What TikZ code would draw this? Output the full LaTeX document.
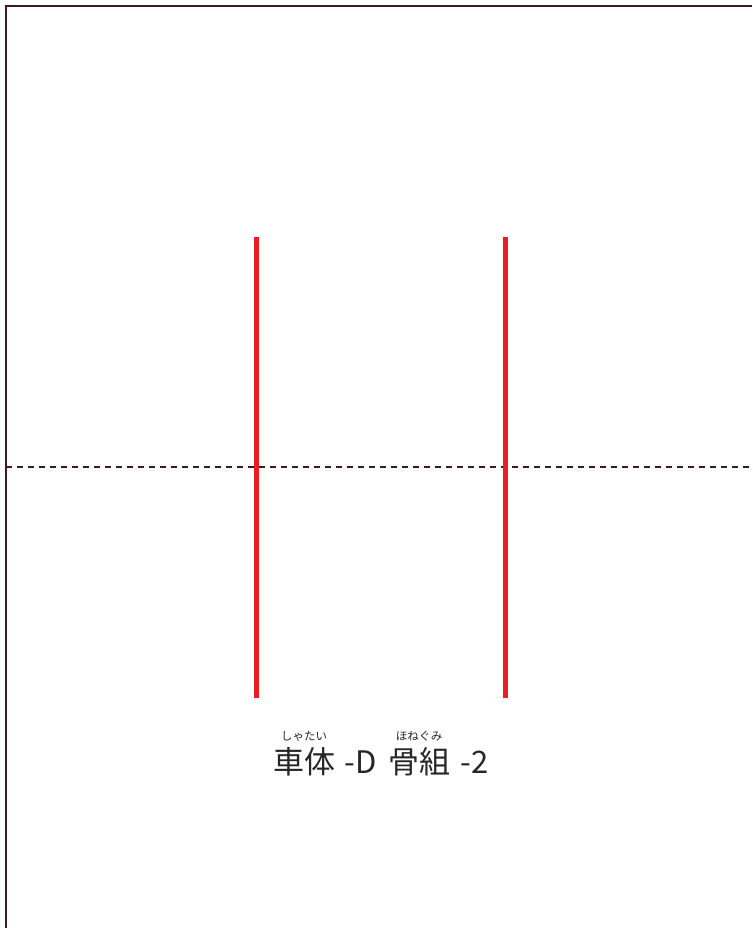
\documentclass[tikz,border=0pt]{standalone}
\usepackage{fontspec}
\newfontfamily\jpfont{Noto Sans CJK JP}
\usetikzlibrary{positioning}
\definecolor{frameline}{HTML}{3A1C1C}
\definecolor{cutred}{HTML}{ED1C24}

\begin{document}
\begin{tikzpicture}[x=1pt,y=-1pt,
    edge/.style={frameline,line width=2.5pt},
    foldline/.style={edge,dash pattern=on 6pt off 5pt},
    cutline/.style={cutred,line width=5pt},
    caption/.style={inner sep=0pt,text=black!85,font=\jpfont\fontsize{31}{31}\selectfont},
    furigana/.style={inner sep=0pt,text=black!85,font=\jpfont\fontsize{11.5}{11.5}\selectfont}]
  \useasboundingbox (0,0) rectangle (752,928);
  \coordinate (corner) at (6,6);
  \coordinate (topend) at (752,6);
  \coordinate (leftend) at (6,928);
  \draw[edge] (topend) -- (corner) -- (leftend);
  \coordinate (foldl) at (6,467);
  \coordinate (foldr) at (752,467);
  \draw[foldline] (foldl) -- (foldr);
  \coordinate (cut1top) at (256,237);
  \coordinate (cut1bot) at (256,698);
  \coordinate (cut2top) at (505,237);
  \coordinate (cut2bot) at (505,698);
  \draw[cutline] (cut1top) -- (cut1bot);
  \draw[cutline] (cut2top) -- (cut2bot);
  \node[caption,anchor=base west] (car) at (273,773) {車体};
  \node[caption,base right=9pt of car] (cartag) {-D};
  \node[caption,base right=11pt of cartag] (frame) {骨組};
  \node[caption,base right=10pt of frame] (frametag) {-2};
  \node[furigana,above=5pt of car] (carruby) {しゃたい};
  \node[furigana,above=5pt of frame] (frameruby) {ほねぐみ};
\end{tikzpicture}
\end{document}
